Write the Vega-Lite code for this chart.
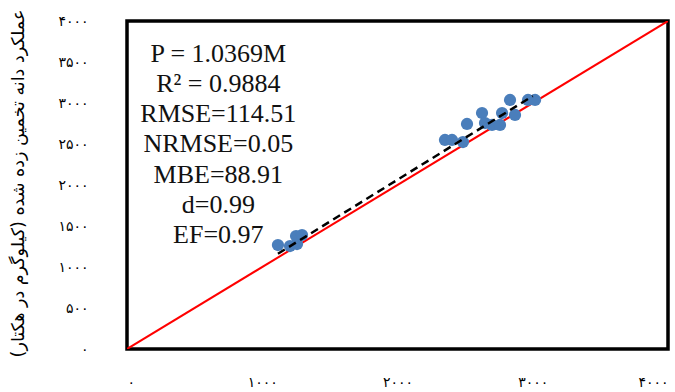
{
  "$schema": "https://vega.github.io/schema/vega-lite/v6.json",
  "width": 541,
  "height": 328,
  "autosize": {"type": "none"},
  "padding": {"left": 127, "top": 21, "right": 7, "bottom": 43},
  "background": "white",
  "config": {
    "view": {"stroke": "black", "strokeWidth": 3.5},
    "axis": {"grid": false, "domain": false, "ticks": false}
  },
  "datasets": {
    "points": [
      {"observed": 1116, "predicted": 1268},
      {"observed": 1205, "predicted": 1256},
      {"observed": 1257, "predicted": 1280},
      {"observed": 1250, "predicted": 1378},
      {"observed": 1294, "predicted": 1390},
      {"observed": 2351, "predicted": 2549},
      {"observed": 2403, "predicted": 2549},
      {"observed": 2484, "predicted": 2524},
      {"observed": 2514, "predicted": 2744},
      {"observed": 2625, "predicted": 2878},
      {"observed": 2647, "predicted": 2756},
      {"observed": 2699, "predicted": 2732},
      {"observed": 2758, "predicted": 2732},
      {"observed": 2773, "predicted": 2878},
      {"observed": 2832, "predicted": 3037},
      {"observed": 2869, "predicted": 2854},
      {"observed": 2965, "predicted": 3037},
      {"observed": 3017, "predicted": 3037}
    ],
    "oneToOne": [
      {"observed": 0, "predicted": 0},
      {"observed": 4000, "predicted": 4000}
    ],
    "trend": [
      {"observed": 1116, "predicted": 1162},
      {"observed": 3000, "predicted": 3085}
    ]
  },
  "layer": [
    {
      "data": {"name": "oneToOne"},
      "mark": {"type": "line", "color": "#ff0000", "strokeWidth": 2, "clip": true},
      "encoding": {
        "x": {
          "field": "observed", "type": "quantitative",
          "scale": {"domain": [0, 4000], "nice": false},
          "axis": {
            "title": null,
            "values": [0, 1000, 2000, 3000, 4000],
            "labelPadding": 26,
            "labelDx": -5,
            "labelFont": "DejaVu Sans",
            "labelFontSize": 14,
            "labelColor": "black",
            "labelExpr": "datum.value==0?'۰':datum.value==1000?'۱۰۰۰':datum.value==2000?'۲۰۰۰':datum.value==3000?'۳۰۰۰':'۴۰۰۰'"
          }
        },
        "y": {
          "field": "predicted", "type": "quantitative",
          "scale": {"domain": [0, 4000], "nice": false},
          "axis": {
            "title": "عملکرد دانه تخمین زده شده (کیلوگرم در هکتار)",
            "titleFont": "DejaVu Sans",
            "titleFontSize": 17.5,
            "titleFontWeight": "normal",
            "titleColor": "black",
            "titleX": -109,
            "titleY": 162,
            "titleAngle": -90,
            "titleAlign": "center",
            "titleBaseline": "middle",
            "values": [0, 500, 1000, 1500, 2000, 2500, 3000, 3500, 4000],
            "labelPadding": 39,
            "labelFont": "DejaVu Sans",
            "labelFontSize": 14,
            "labelColor": "black",
            "labelExpr": "datum.value==0?'۰':datum.value==500?'۵۰۰':datum.value==1000?'۱۰۰۰':datum.value==1500?'۱۵۰۰':datum.value==2000?'۲۰۰۰':datum.value==2500?'۲۵۰۰':datum.value==3000?'۳۰۰۰':datum.value==3500?'۳۵۰۰':'۴۰۰۰'"
          }
        }
      }
    },
    {
      "data": {"name": "points"},
      "mark": {"type": "circle", "color": "#4a7ebb", "opacity": 1, "size": 150},
      "encoding": {
        "x": {"field": "observed", "type": "quantitative"},
        "y": {"field": "predicted", "type": "quantitative"}
      }
    },
    {
      "data": {"name": "trend"},
      "mark": {"type": "line", "color": "black", "strokeWidth": 2.5, "strokeDash": [8, 5]},
      "encoding": {
        "x": {"field": "observed", "type": "quantitative"},
        "y": {"field": "predicted", "type": "quantitative"}
      }
    },
    {
      "data": {"values": [{}]},
      "mark": {
        "type": "text",
        "font": "Liberation Serif",
        "fontSize": 26,
        "color": "#111111",
        "align": "center",
        "baseline": "top",
        "lineHeight": 30.3
      },
      "encoding": {
        "x": {"datum": 675},
        "y": {"datum": 3762},
        "text": {"value": ["P = 1.0369M", "R² = 0.9884", "RMSE=114.51", "NRMSE=0.05", "MBE=88.91", "d=0.99", "EF=0.97"]}
      }
    }
  ]
}
